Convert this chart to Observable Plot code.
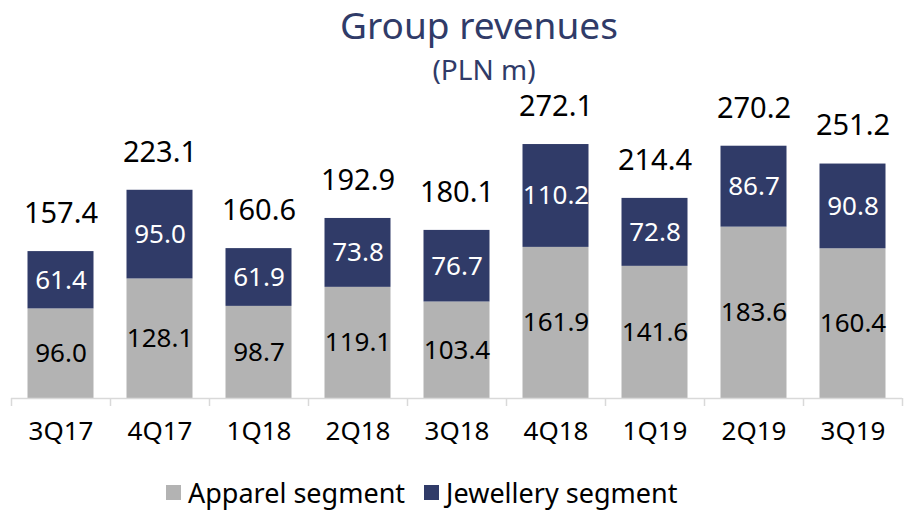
<!DOCTYPE html>
<html><head><meta charset="utf-8">
<script src="https://cdn.jsdelivr.net/npm/d3@7"></script>
<script src="https://cdn.jsdelivr.net/npm/@observablehq/plot@0.6"></script>
<style>
body{margin:0;background:#fff;font-family:"Noto Sans",sans-serif;width:906px;height:510px;overflow:hidden}
#title{height:85px;text-align:center;color:#303b68;padding-left:52px;box-sizing:border-box;overflow:visible}
#t1{font-size:37px;line-height:50px}
#t2{font-size:28px;line-height:38px;padding-left:10px}
#legend{height:55px;display:flex;justify-content:flex-start;align-items:center;padding-left:166px;padding-top:20px;box-sizing:border-box;font-size:27px;color:#000}
.sw{display:inline-block;width:15px;height:15px;margin-right:7px}
.it{display:flex;align-items:center;margin-right:19px}
#chart{height:370px}
</style></head>
<body>
<div id="title"><div id="t1">Group revenues</div><div id="t2">(PLN m)</div></div>
<div id="chart"></div>
<div id="legend"></div>
<script>
const quarters = ["3Q17","4Q17","1Q18","2Q18","3Q18","4Q18","1Q19","2Q19","3Q19"];
const apparel = [96.0,128.1,98.7,119.1,103.4,161.9,141.6,183.6,160.4];
const jewellery = [61.4,95.0,61.9,73.8,76.7,110.2,72.8,86.7,90.8];
const totals = [157.4,223.1,160.6,192.9,180.1,272.1,214.4,270.2,251.2];
const segments = ["Apparel segment","Jewellery segment"];
const colors = ["#b3b3b3","#303b68"];
const textColors = ["#000000","#ffffff"];

const rows = [];
quarters.forEach((q,i)=>rows.push({q, seg:segments[0], v:apparel[i]}));
quarters.forEach((q,i)=>rows.push({q, seg:segments[1], v:jewellery[i]}));
const totalRows = quarters.map((q,i)=>({q, v:totals[i]}));

const chart = Plot.plot({
  width:906, height:370,
  marginLeft:11, marginRight:4, marginTop:33, marginBottom:57,
  style:{fontFamily:"'Noto Sans', sans-serif", background:"#fff"},
  x:{domain:quarters, padding:0, label:null, axis:null},
  y:{domain:[0,300], axis:null},
  color:{domain:segments, range:colors},
  marks:[
    Plot.barY(rows, Plot.stackY({x:"q", y:"v", z:"seg", fill:"seg", order:null, insetLeft:16.5, insetRight:16.5})),
    Plot.text(rows, Plot.stackY({x:"q", y:"v", z:"seg", order:null, text:d=>d.v.toFixed(1), fill:d=>textColors[segments.indexOf(d.seg)], fontSize:26})),
    Plot.text(totalRows, {x:"q", y:"v", text:d=>d.v.toFixed(1), dy:-38, fontSize:29, fill:"#000"}),
    Plot.ruleY([0], {stroke:"#d9d9d9", strokeWidth:1.5}),
    Plot.ruleX(quarters, {x:d=>d, y1:0, y2:0, insetBottom:-8, dx:-49.5, stroke:"#d9d9d9", strokeWidth:1.5}),
    Plot.ruleX(quarters.slice(-1), {x:d=>d, y1:0, y2:0, insetBottom:-8, dx:49.5, stroke:"#d9d9d9", strokeWidth:1.5}),
    Plot.axisX({tickSize:0, tickPadding:23, fontSize:26, fill:"#000", label:null})
  ]
});
document.getElementById("chart").appendChild(chart);

const lg = document.getElementById("legend");
segments.forEach((s,i)=>{
  const it = document.createElement("span"); it.className="it";
  const sw = document.createElement("span"); sw.className="sw"; sw.style.background=colors[i];
  it.appendChild(sw); it.appendChild(document.createTextNode(s)); lg.appendChild(it);
});
</script>
</body></html>
